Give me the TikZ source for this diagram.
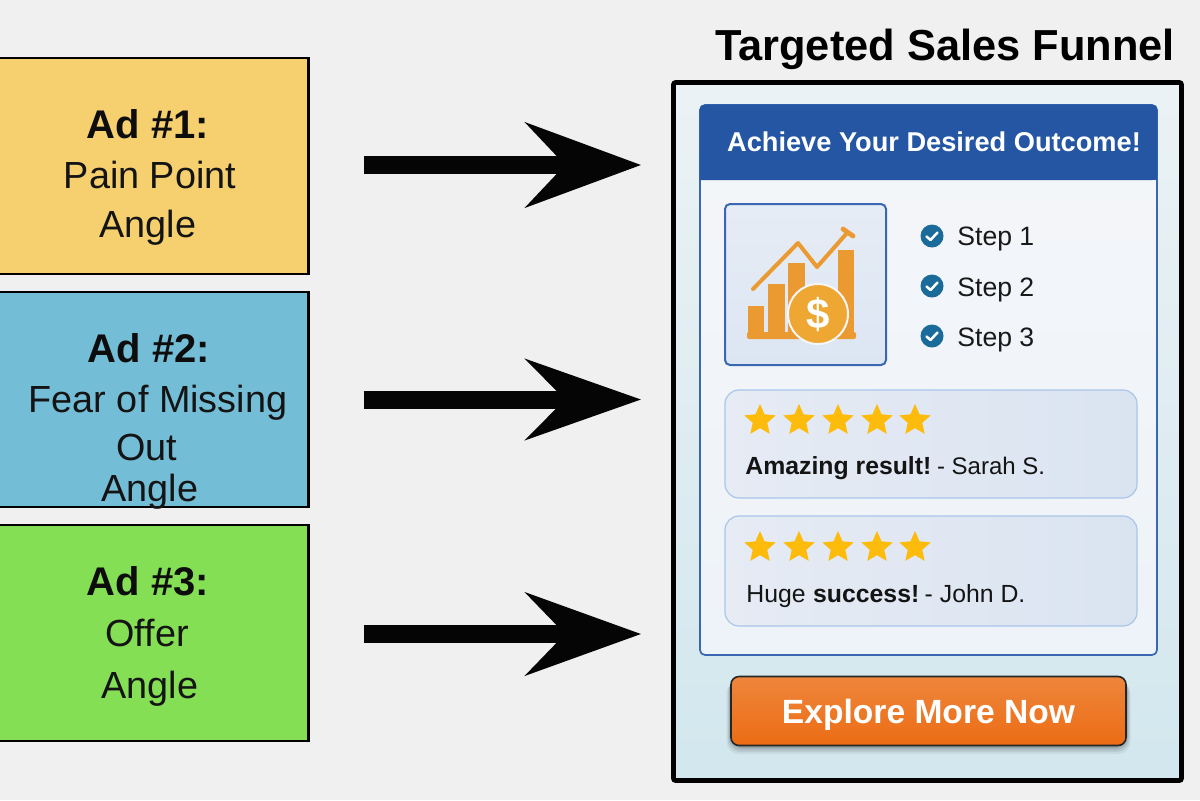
\documentclass[tikz,border=0pt]{standalone}
\usepackage{fontspec}
\setmainfont{Liberation Sans}
\usetikzlibrary{arrows.meta,shapes.geometric}
\newcommand{\fs}[1]{\fontsize{#1pt}{#1pt}\selectfont}
\definecolor{bgc}{HTML}{F0F0F0}
\definecolor{gold}{HTML}{FDBB0C}
\definecolor{chkblue}{HTML}{1A6A9A}
\definecolor{revline}{HTML}{A9C6E8}
\definecolor{revl}{HTML}{E6EBF4}
\definecolor{revr}{HTML}{DAE4F1}
\definecolor{barorange}{HTML}{EA9A30}
\definecolor{coin}{HTML}{EFA733}
\definecolor{navy}{HTML}{2456A4}
\definecolor{cardedge}{HTML}{3A68B0}
\definecolor{adyellow}{HTML}{F6D06E}
\definecolor{adblue}{HTML}{74BDD6}
\definecolor{adgreen}{HTML}{84DF55}
\definecolor{frametop}{HTML}{EBF2F5}
\definecolor{framebot}{HTML}{D2E7EE}
\definecolor{cardtop}{HTML}{F4F6F9}
\definecolor{cardbot}{HTML}{EEF3F9}
\definecolor{imgtop}{HTML}{E6ECF5}
\definecolor{imgbot}{HTML}{DCE6F3}
\definecolor{btntop}{HTML}{EE863C}
\definecolor{btnbot}{HTML}{EC6C14}
\tikzset{
  adbox/.style={draw=black,line width=1.2pt,minimum width=159pt,inner sep=0pt},
  adhead/.style={anchor=base,inner sep=0pt,font=\fs{20}\bfseries,text=black!95},
  adtext/.style={anchor=base,inner sep=0pt,font=\fs{18.9},text=black!92},
  bigarrow/.style={line width=9pt,draw=black!98,shorten <=27pt,shorten >=15pt,
    -{Stealth[length=57.5pt,width=#1,inset=19.5pt]}},
  gostar/.style={star,star points=5,star point ratio=2.15,fill=gold,inner sep=0pt,minimum size=16.5pt},
  chk/.style={circle,fill=chkblue,inner sep=0pt,minimum size=11.5pt},
  chkmark/.style={draw=white,line width=1.25pt,line cap=round,line join=round},
  steptext/.style={anchor=base west,inner sep=0pt,font=\fs{13.3},text=black!90},
  revtext/.style={anchor=base west,inner sep=0pt,font=\fs{12.4},text=black!92},
  revbox/.style={draw=revline,line width=.6pt,rounded corners=7pt,left color=revl,right color=revr,
    minimum width=206pt,inner sep=0pt},
  barfill/.style={fill=barorange},
}
\begin{document}
\begin{tikzpicture}[x=.5pt,y=-.5pt]
\useasboundingbox (0,0) rectangle (1200,800);
\clip (0,0) rectangle (1200,800);
\fill[bgc] (0,0) rectangle (1200,800);

% funnel frame
\node[draw=black,line width=2.3pt,rounded corners=1pt,minimum width=254pt,minimum height=349pt,inner sep=0pt,
  top color=frametop,bottom color=framebot] (funnel) at (927.5,431.5) {};
\node[anchor=base,inner sep=0pt,font=\fs{21.7}\bfseries,text=black] (title) at (945,60) {Targeted Sales Funnel};

% ad boxes
\node[adbox,minimum height=108pt,fill=adyellow] (ad1) at (149.5,166) {};
\node[adbox,minimum height=107.5pt,fill=adblue] (ad2) at (149.5,399.5) {};
\node[adbox,minimum height=108pt,fill=adgreen] (ad3) at (149.5,633) {};

\node[adhead] (a1h) at (148,138) {Ad \#1:};
\node[adtext] (a1a) at (150,188) {Pain Point};
\node[adtext] (a1b) at (148,237) {Angle};
\node[adhead] (a2h) at (149,362) {Ad \#2:};
\node[adtext] (a2a) at (158,412) {Fear of Missing};
\node[adtext] (a2b) at (147,460) {Out};
\node[adtext] (a2c) at (150,501) {Angle};
\node[adhead] (a3h) at (148,595) {Ad \#3:};
\node[adtext] (a3a) at (147,646) {Offer};
\node[adtext] (a3b) at (150,698) {Angle};

% arrows
\draw[bigarrow=42pt,transform canvas={yshift=.5pt}] (ad1.east) -- (ad1.east -| funnel.west);
\draw[bigarrow=40pt] (ad2.east) -- (ad2.east -| funnel.west);
\draw[bigarrow=41pt,transform canvas={yshift=-.5pt}] (ad3.east) -- (ad3.east -| funnel.west);

% card
\node[draw=cardedge,line width=.85pt,rounded corners=2.5pt,minimum width=228.5pt,minimum height=275pt,inner sep=0pt,
  top color=cardtop,bottom color=cardbot] (card) at (928.5,380) {};
\fill[navy,rounded corners=2.5pt] (699.6,180) -- (699.6,104.6) -- (1157.4,104.6) -- (1157.4,180) [sharp corners] -- cycle;
\fill[navy] (699.6,170) rectangle (1157.4,180);
\node[anchor=base,inner sep=0pt,font=\fs{13.6}\bfseries,text=white] (head) at (934,151) {Achieve Your Desired Outcome!};

% image
\node[draw=cardedge,line width=1pt,rounded corners=2.5pt,minimum width=80.5pt,minimum height=80.5pt,inner sep=0pt,
  top color=imgtop,bottom color=imgbot] (img) at (805.5,284.5) {};
\fill[barfill] (748,306) rectangle (764,335);
\fill[barfill] (768,284) rectangle (785,335);
\fill[barfill] (788,263) rectangle (805,335);
\fill[barfill] (838,250) rectangle (854,335);
\fill[barfill,rounded corners=1pt] (747,332) rectangle (856,339);
\draw[barorange,line width=2pt,line cap=round,line join=round] (753,289) -- (798,243) -- (817,267) -- (847,233);
\draw[barorange,line width=2.4pt,line cap=round] (843,229) -- (853,236);
\node[circle,fill=coin,draw=cardtop,line width=1pt,inner sep=0pt,minimum size=30pt,text=white,font=\fs{21}\bfseries] (dollar) at (818,314) {\$};

% steps
\node[chk] (c1) at (932,236) {};
\draw[chkmark] (926.5,236.5) -- (930.5,240) -- (937.5,232.5);
\node[steptext] (s1) at (957,245.5) {Step 1};
\node[chk] (c2) at (932,286) {};
\draw[chkmark] (926.5,286.5) -- (930.5,290) -- (937.5,282.5);
\node[steptext] (s2) at (957,296.5) {Step 2};
\node[chk] (c3) at (932,336) {};
\draw[chkmark] (926.5,336.5) -- (930.5,340) -- (937.5,332.5);
\node[steptext] (s3) at (957,346.5) {Step 3};

% reviews
\node[revbox,minimum height=54pt] (r1) at (931,444) {};
\node[revbox,minimum height=55pt] (r2) at (931,571) {};
\foreach \sx/\n in {760/a,799/b,838/c,877/d,915/e}{
  \node[gostar] (st1\n) at (\sx,420.5) {};
  \node[gostar] (st2\n) at (\sx,547.5) {};
}
\node[revtext] (r1t) at (745,474) {\textbf{Amazing result!}\kern-1.8pt{} {\fs{12}- Sarah S.}};
\node[revtext] (r2t) at (746,602) {Huge \kern.3pt\textbf{success!}\kern-1.9pt{} - John D.};

% button
\foreach \o/\g in {9/.05,7/.07,5/.09,3/.12}{
  \fill[black,opacity=\g,rounded corners=6pt] (731-\o/2,677+\o/2) rectangle (1126+\o/2,745+\o);
}
\node[draw=black!85,line width=.8pt,rounded corners=4pt,minimum width=197.5pt,minimum height=34.5pt,inner sep=0pt,
  top color=btntop,bottom color=btnbot] (btn) at (928.5,711) {};
\node[anchor=base,inner sep=0pt,font=\fs{16.8}\bfseries,text=white] (btnt) at (928.5,723) {Explore More Now};
\end{tikzpicture}
\end{document}
